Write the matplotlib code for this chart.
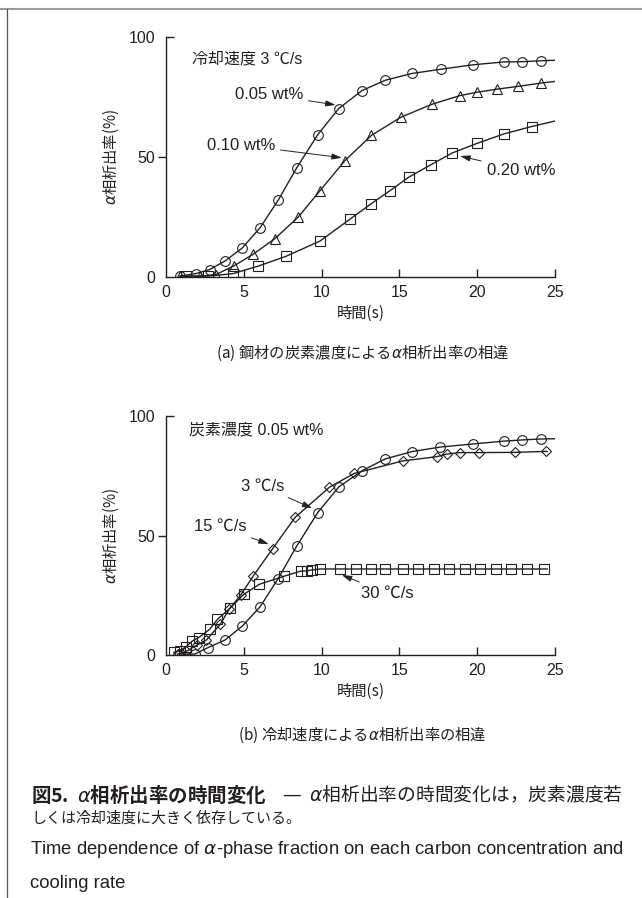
import matplotlib
matplotlib.use("Agg")
import matplotlib.pyplot as plt
from matplotlib.lines import Line2D, TICKRIGHT

plt.rcParams["font.family"] = ["Liberation Sans", "Noto Sans CJK JP", "DejaVu Sans"]
plt.rcParams["mathtext.fontset"] = "dejavusans"

INK = "#231f20"
JP = ["Noto Sans CJK JP", "DejaVu Sans"]

# (a) carbon concentration, cooling rate 3 C/s
t_a_005 = [0.9, 1.9, 2.8, 3.8, 4.9, 6.05, 7.2, 8.4, 9.75, 11.1, 12.6, 14.1, 15.8, 17.7, 19.7, 21.7, 22.9, 24.1]
a_005 = [0.4, 1.4, 3.1, 6.7, 12.1, 20.6, 31.9, 45.5, 59.3, 70.2, 77.7, 82.0, 84.8, 86.6, 88.4, 89.6, 89.7, 90.1]
t_a_010 = [0.9, 2.2, 3.2, 4.4, 5.6, 7.0, 8.5, 9.9, 11.5, 13.2, 15.1, 17.1, 18.9, 20.0, 21.3, 22.6, 24.1]
a_010 = [0.3, 0.3, 1.0, 4.8, 9.5, 16.0, 25.0, 36.0, 48.5, 59.0, 66.6, 72.0, 75.6, 77.0, 78.3, 79.4, 80.8]
t_a_020 = [1.3, 2.7, 4.3, 5.9, 7.7, 9.9, 11.8, 13.2, 14.4, 15.6, 17.0, 18.4, 20.0, 21.7, 23.5]
a_020 = [0.4, 0.4, 1.4, 4.5, 8.6, 15.0, 24.0, 30.6, 36.0, 41.6, 46.7, 51.7, 55.7, 59.6, 62.7]
end_a = [90.3, 81.5, 65.0]  # curve values at t = 25 s

# (b) cooling rate, carbon 0.05 wt%
t_b_3 = [0.9, 1.85, 2.7, 3.8, 4.9, 6.05, 7.2, 8.4, 9.75, 11.1, 12.6, 14.1, 15.8, 17.6, 19.7, 21.7, 22.9, 24.1]
b_3 = [0.4, 0.4, 3.1, 6.3, 12.1, 20.2, 31.9, 45.6, 59.6, 70.3, 77.1, 82.1, 85.1, 87.0, 88.3, 89.5, 90.0, 90.4]
t_b_15 = [0.75, 1.3, 2.0, 2.6, 3.5, 4.05, 4.8, 5.6, 6.85, 8.3, 10.5, 12.1, 15.2, 17.4, 18.05, 18.9, 20.1, 22.4, 24.4]
b_15 = [0.4, 1.5, 4.2, 6.3, 13.0, 19.1, 25.1, 33.0, 44.5, 57.6, 70.2, 76.0, 81.2, 83.0, 84.1, 84.7, 84.7, 84.8, 85.2]
t_b_30 = [0.5, 0.9, 1.3, 1.7, 2.1, 2.8, 3.3, 4.1, 5.0, 6.0, 7.6, 8.65, 9.05, 9.4, 9.9,
          11.2, 12.2, 13.2, 14.1, 15.2, 16.2, 17.2, 18.2, 19.2, 20.2, 21.2, 22.2, 23.2, 24.3]
b_30 = [1.1, 1.8, 3.5, 5.9, 7.3, 10.7, 14.9, 19.5, 25.4, 29.6, 33.0, 35.1, 35.2, 35.6, 36.0,
        36.0, 36.0, 36.0, 36.0, 36.0, 36.0, 36.0, 36.0, 36.0, 36.0, 36.0, 36.0, 36.0, 36.0]
end_b = [(25.0, 90.5), (24.5, 85.2), (24.5, 36.0)]

x_ticks = [0, 5, 10, 15, 20, 25]
y_ticks = [0, 50, 100]


def series(ax, t, y, end, marker, ms):
    ax.plot(list(t) + [end[0]], list(y) + [end[1]], color=INK, lw=1.0, zorder=2)
    ax.plot(t, y, ls="none", marker=marker, ms=ms, mfc="none", mec=INK, mew=0.8, zorder=3)


def arrow(ax, text, xy, xytext, ha):
    ax.annotate(text, xy=xy, xytext=xytext, ha=ha, va="center", fontsize=12, color=INK,
                arrowprops=dict(arrowstyle="-|>,head_length=0.5,head_width=0.15",
                                color=INK, lw=0.7, shrinkA=2, shrinkB=0))


def style(ax):
    ax.set_xlim(0, 25)
    ax.set_ylim(0, 100)
    for s in ("top", "right"):
        ax.spines[s].set_visible(False)
    for s in ("left", "bottom"):
        ax.spines[s].set_linewidth(1.0)
        ax.spines[s].set_color(INK)
    ax.set_xticks(x_ticks)
    ax.set_yticks(y_ticks)
    ax.tick_params(axis="x", direction="in", length=6, width=1.0, pad=5.5, labelsize=11.5, colors=INK)
    ax.tick_params(axis="y", direction="out", length=6, width=1.0, pad=1.5, labelsize=11.5, colors=INK)
    yt = ax.yaxis.get_major_ticks()
    yt[0].tick1line.set_visible(False)
    yt[2].tick1line.set_marker(TICKRIGHT)
    ax.xaxis.get_major_ticks()[0].tick1line.set_visible(False)
    ax.set_ylabel(r"$\alpha$相析出率(%)", fontsize=11, color=INK, labelpad=6, family=JP)
    ax.set_xlabel("時間(s)", fontsize=11, color=INK, labelpad=4, family=JP)


fig = plt.figure(figsize=(6.42, 8.98), dpi=100)

ax1 = fig.add_axes([0.2586, 0.6915, 0.6059, 0.2673])
series(ax1, t_a_005, a_005, (25.0, end_a[0]), "o", 7)
series(ax1, t_a_010, a_010, (25.0, end_a[1]), "^", 7)
series(ax1, t_a_020, a_020, (25.0, end_a[2]), "s", 6.5)
style(ax1)
ax1.text(1.7, 91, "冷却速度 3 ℃/s", fontsize=11.5, color=INK, va="center")
arrow(ax1, "0.05 wt%", (10.9, 71.7), (8.8, 76), "right")
arrow(ax1, "0.10 wt%", (11.3, 49.7), (7.0, 55), "right")
arrow(ax1, "0.20 wt%", (18.9, 50.4), (20.6, 44.5), "left")
fig.text(0.565, 1 - 353 / 898, r"(a) 鋼材の炭素濃度による$\alpha$相析出率の相違",
         ha="center", va="center", fontsize=11, color=INK, family=JP)

ax2 = fig.add_axes([0.2586, 0.2706, 0.6059, 0.2661])
series(ax2, t_b_30, b_30, end_b[2], "s", 6.5)
series(ax2, t_b_15, b_15, end_b[1], "D", 5.5)
series(ax2, t_b_3, b_3, end_b[0], "o", 7)
style(ax2)
ax2.text(1.5, 94, "炭素濃度 0.05 wt%", fontsize=11.5, color=INK, va="center")
arrow(ax2, "3 ℃/s", (9.4, 61.4), (7.6, 70.7), "right")
arrow(ax2, "15 ℃/s", (6.6, 46.4), (5.2, 53.7), "right")
arrow(ax2, "30 ℃/s", (11.3, 33.5), (12.5, 25.8), "left")
fig.text(0.565, 1 - 735 / 898, r"(b) 冷却速度による$\alpha$相析出率の相違",
         ha="center", va="center", fontsize=11, color=INK, family=JP)

# caption
cap = dict(color=INK, va="center", family=JP)
fig.text(31 / 642, 1 - 795 / 898, r"図5.  $\alpha$相析出率の時間変化", fontsize=14, weight="bold", **cap)
fig.text(623 / 642, 1 - 795 / 898, r"—  $\alpha$相析出率の時間変化は，炭素濃度若",
         fontsize=13.5, ha="right", **cap)
fig.text(31 / 642, 1 - 818 / 898, "しくは冷却速度に大きく依存している。", fontsize=10.8, **cap)
fig.text(30 / 642, 1 - 849 / 898,
         r"Time dependence of $\alpha$-phase fraction on each carbon concentration and",
         fontsize=13.3, color=INK, va="center")
fig.text(30 / 642, 1 - 883 / 898, "cooling rate", fontsize=13.3, color=INK, va="center")

# page frame
fig.add_artist(Line2D([0, 1], [1 - 8.5 / 898, 1 - 8.5 / 898], color="#9a9a9a", lw=1.5))
fig.add_artist(Line2D([6.7 / 642, 6.7 / 642], [0, 1 - 8.5 / 898], color="#555555", lw=0.9))

fig.savefig("out.png", dpi=100)
